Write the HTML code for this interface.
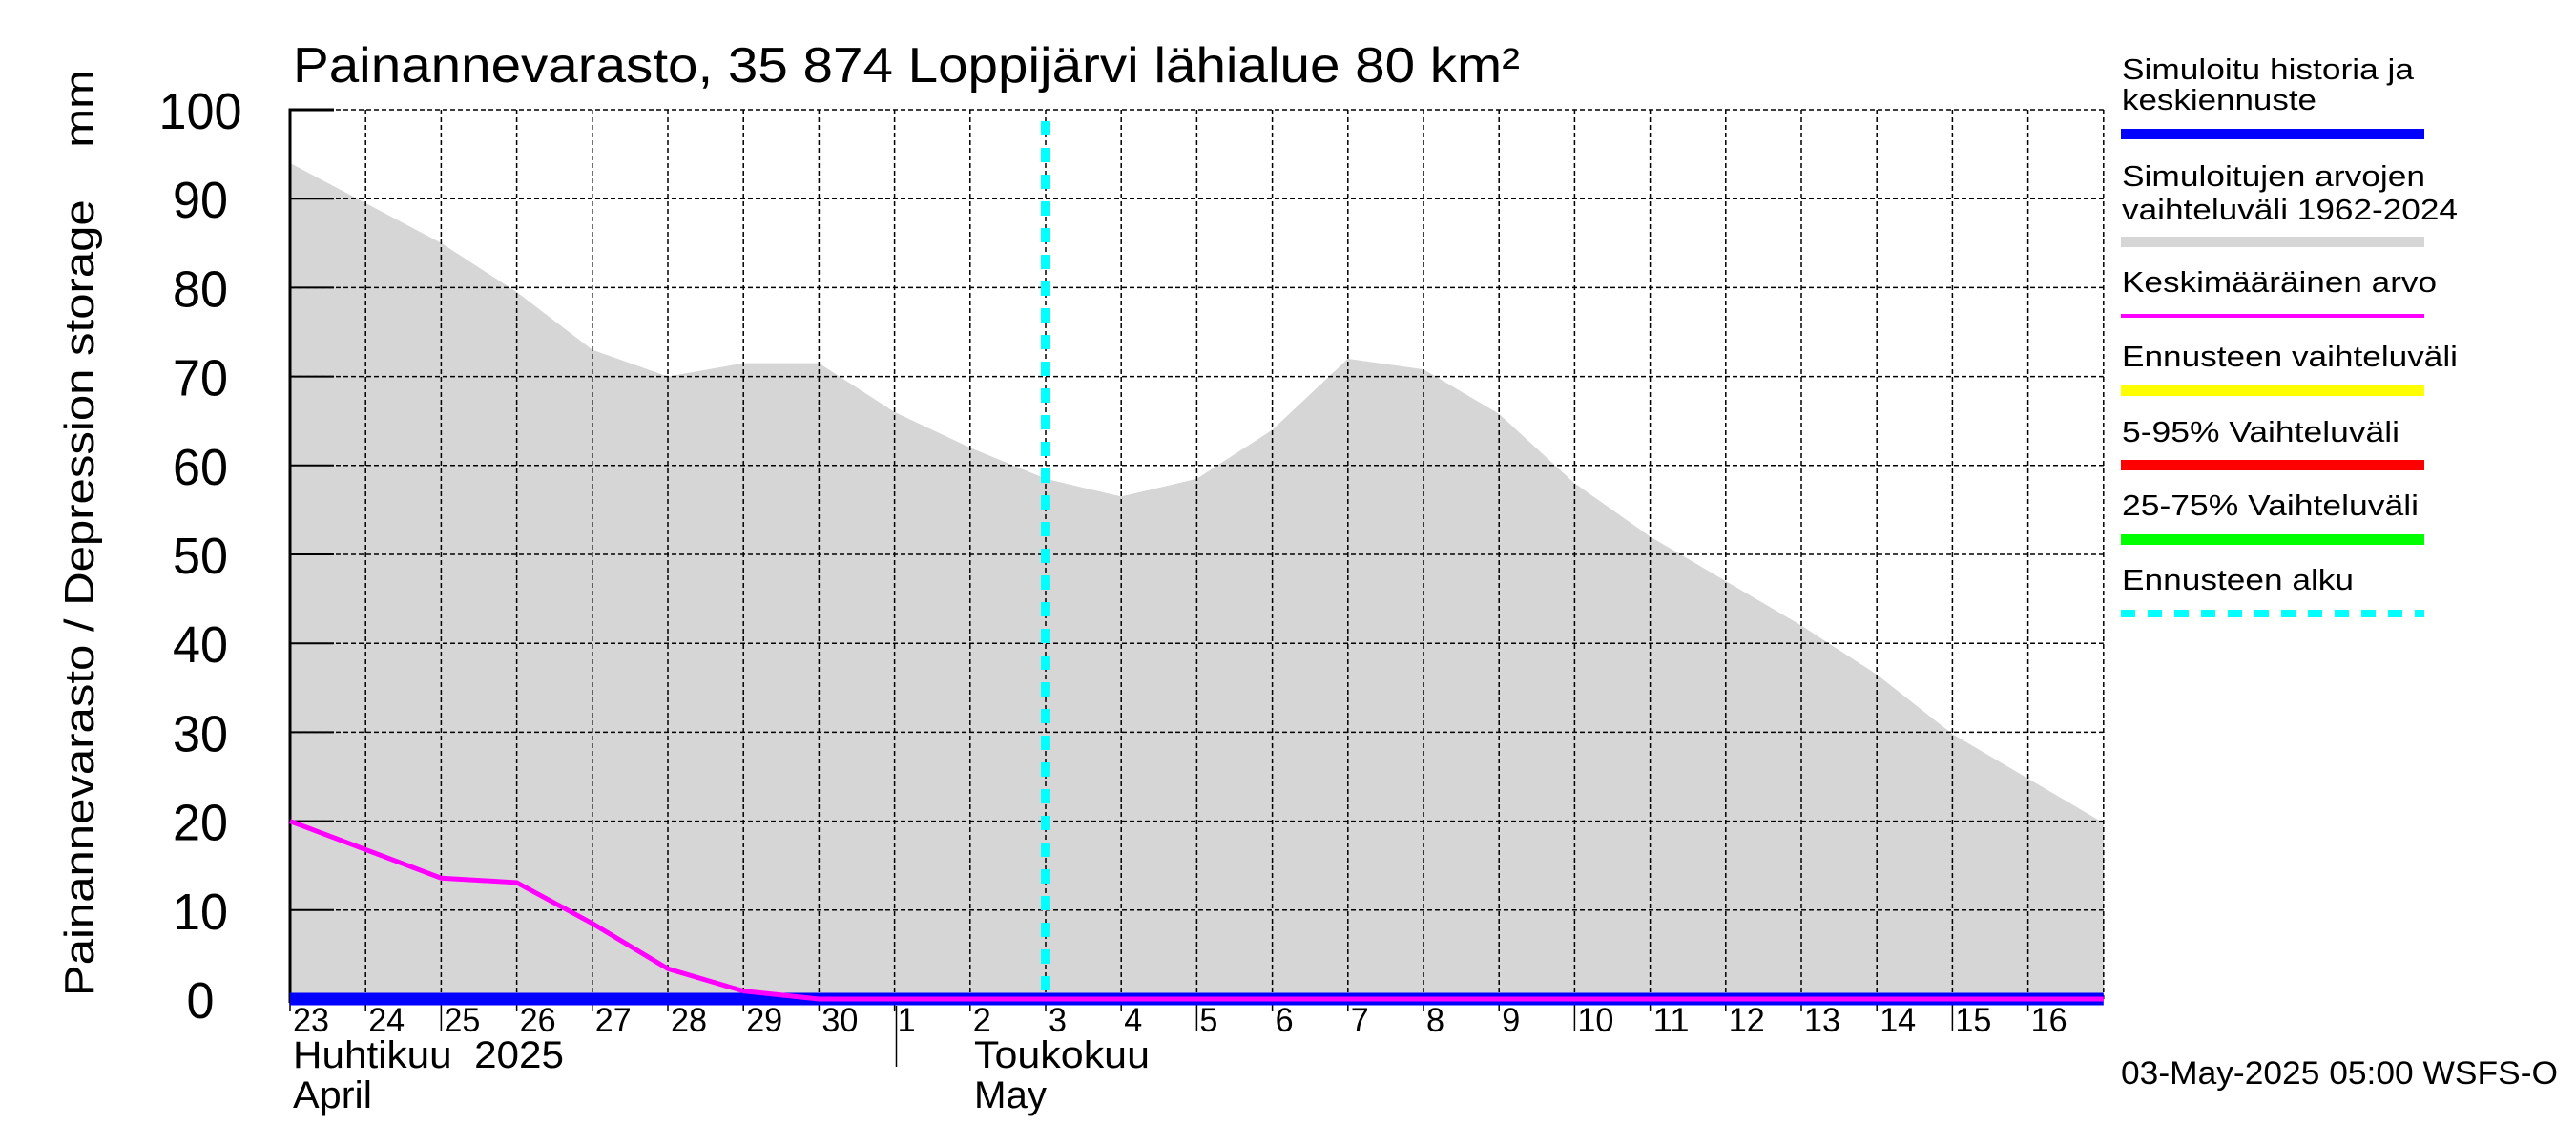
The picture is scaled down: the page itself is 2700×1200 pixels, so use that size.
<!DOCTYPE html>
<html><head><meta charset="utf-8"><style>
html,body{margin:0;padding:0;background:#fff;}
svg{display:block;}
text{font-family:"Liberation Sans",sans-serif;fill:#000;}
</style></head><body>
<svg id="chart" width="2700" height="1200" viewBox="0 0 2700 1200" xmlns="http://www.w3.org/2000/svg">
<g id="plot"></g>
<text x="307" y="86" font-size="52" textLength="1286" lengthAdjust="spacingAndGlyphs">Painannevarasto, 35 874 Loppijärvi lähialue 80 km²</text>
<text transform="translate(98,1044) rotate(-90)" font-size="44" textLength="971" lengthAdjust="spacingAndGlyphs" xml:space="preserve">Painannevarasto / Depression storage    mm</text>
<g id="xlabels"></g>
<text x="307" y="1119" font-size="40" textLength="284" lengthAdjust="spacingAndGlyphs" xml:space="preserve">Huhtikuu  2025</text>
<text x="307" y="1161" font-size="40" textLength="83" lengthAdjust="spacingAndGlyphs">April</text>
<text x="1021" y="1119" font-size="40" textLength="184" lengthAdjust="spacingAndGlyphs">Toukokuu</text>
<text x="1021" y="1161" font-size="40" textLength="76" lengthAdjust="spacingAndGlyphs">May</text>
<line x1="939.5" y1="1054" x2="939.5" y2="1118" stroke="#000" stroke-width="1.5"/>
<text x="2223" y="1136" font-size="34" textLength="458" lengthAdjust="spacingAndGlyphs">03-May-2025 05:00 WSFS-O</text>
<g id="legend">
 <g>
  <text x="2224" y="83" font-size="31" textLength="306" lengthAdjust="spacingAndGlyphs">Simuloitu historia ja</text>
  <text x="2224" y="115" font-size="31" textLength="204" lengthAdjust="spacingAndGlyphs">keskiennuste</text>
  <rect x="2223" y="135" width="318" height="11" fill="#0000ff"/>
 </g>
 <g>
  <text x="2224" y="195" font-size="31" textLength="318" lengthAdjust="spacingAndGlyphs">Simuloitujen arvojen</text>
  <text x="2224" y="230" font-size="31" textLength="352" lengthAdjust="spacingAndGlyphs">vaihteluväli 1962-2024</text>
  <rect x="2223" y="248" width="318" height="11" fill="#d6d6d6"/>
 </g>
 <g>
  <text x="2224" y="306" font-size="31" textLength="330" lengthAdjust="spacingAndGlyphs">Keskimääräinen arvo</text>
  <rect x="2223" y="329" width="318" height="4" fill="#ff00ff"/>
 </g>
 <g>
  <text x="2224" y="384" font-size="31" textLength="352" lengthAdjust="spacingAndGlyphs">Ennusteen vaihteluväli</text>
  <rect x="2223" y="404" width="318" height="11" fill="#ffff00"/>
 </g>
 <g>
  <text x="2224" y="463" font-size="31" textLength="291" lengthAdjust="spacingAndGlyphs">5-95% Vaihteluväli</text>
  <rect x="2223" y="482" width="318" height="11" fill="#ff0000"/>
 </g>
 <g>
  <text x="2224" y="540" font-size="31" textLength="311" lengthAdjust="spacingAndGlyphs">25-75% Vaihteluväli</text>
  <rect x="2223" y="560" width="318" height="11" fill="#00ff00"/>
 </g>
 <g>
  <text x="2224" y="618" font-size="31" textLength="243" lengthAdjust="spacingAndGlyphs">Ennusteen alku</text>
  <line x1="2223" y1="643" x2="2541" y2="643" stroke="#00ffff" stroke-width="8" stroke-dasharray="15 13"/>
 </g>
</g>
</svg>
<script>
const dayLabels = ["23","24","25","26","27","28","29","30","1","2","3","4","5","6","7","8","9","10","11","12","13","14","15","16"];
const rangeMax = [94,89.5,85,79.5,73,70,71.5,71.5,66,62,58.5,56.5,58.5,64,72,70.8,65.8,58,52,47,42,36.5,29.8,24.8,19.8];
const rangeMin = [0,0,0,0,0,0,0,0,0,0,0,0,0,0,0,0,0,0,0,0,0,0,0,0,0];
const meanValues = [20,16.8,13.6,13.1,8.5,3.4,0.9,0,0,0,0,0,0,0,0,0,0,0,0,0,0,0,0,0,0];
const simValues = [0,0,0,0,0,0,0,0,0,0,0,0,0,0,0,0,0,0,0,0,0,0,0,0,0];
const yTicks = [0,10,20,30,40,50,60,70,80,90,100];
const forecastStartDay = 10;

const NS = "http://www.w3.org/2000/svg";
const X0 = 304, DAY = 79.2, Y0 = 1047, YU = 9.32, X1 = X0 + 24*DAY;
const xs = d => X0 + d*DAY;
const ys = v => Y0 - v*YU;
const plot = document.getElementById('plot');
function mk(tag, attrs, parent){const e=document.createElementNS(NS,tag);for(const k in attrs)e.setAttribute(k,attrs[k]);(parent||plot).appendChild(e);return e;}

let pts = rangeMax.map((v,i)=>xs(i)+','+ys(v));
for(let i=rangeMin.length-1;i>=0;i--) pts.push(xs(i)+','+ys(rangeMin[i]));
const area = mk('polygon',{points:pts.join(' '),fill:'#d6d6d6'});



yTicks.forEach(t=>{
  if(t>0){
    const g = mk('line',{x1:X0,y1:ys(t),x2:X1,y2:ys(t),stroke:'#000','stroke-width':1.5,'stroke-dasharray':'5 3'});
    
    
    const tk = mk('line',{x1:X0,y1:ys(t),x2:X0+46,y2:ys(t),stroke:'#000','stroke-width':2});
    
    
  }
  const s = String(t);
  const lb = mk('text',{x:210,y:ys(t)+20,'font-size':54,'text-anchor':'middle',textLength:s.length*29,lengthAdjust:'spacingAndGlyphs'});
  lb.textContent = s;
  
  
});
for(let d=1; d<=24; d++){
  const g = mk('line',{x1:xs(d),y1:ys(100),x2:xs(d),y2:Y0,stroke:'#000','stroke-width':1.5,'stroke-dasharray':'5 3'});
  
  
}
const xl = document.getElementById('xlabels');
dayLabels.forEach((s,i)=>{
  const long = (s==='25'||s==='5'||s==='10'||s==='15');
  const tk = mk('line',{x1:xs(i),y1:Y0,x2:xs(i),y2:long?1080:1060,stroke:'#000','stroke-width':1.5});
  
  
  const t = mk('text',{x:xs(i)+3,y:1081,'font-size':35,textLength:s.length*19,lengthAdjust:'spacingAndGlyphs'},xl);
  t.textContent = s;
  
  
});
const ax = mk('path',{d:`M${X0+46},${ys(100)} H${X0} V${Y0+4}`,fill:'none',stroke:'#000','stroke-width':3});



const blue = mk('polyline',{points:simValues.map((v,i)=>xs(i)+','+ys(v)).join(' '),fill:'none',stroke:'#0000ff','stroke-width':13});


const mag = mk('polyline',{points:meanValues.map((v,i)=>xs(i)+','+ys(v)).join(' '),fill:'none',stroke:'#ff00ff','stroke-width':5});


const fc = mk('line',{x1:xs(forecastStartDay),y1:127,x2:xs(forecastStartDay),y2:Y0,stroke:'#00ffff','stroke-width':10,'stroke-dasharray':'15 13'});


</script>
</body></html>
